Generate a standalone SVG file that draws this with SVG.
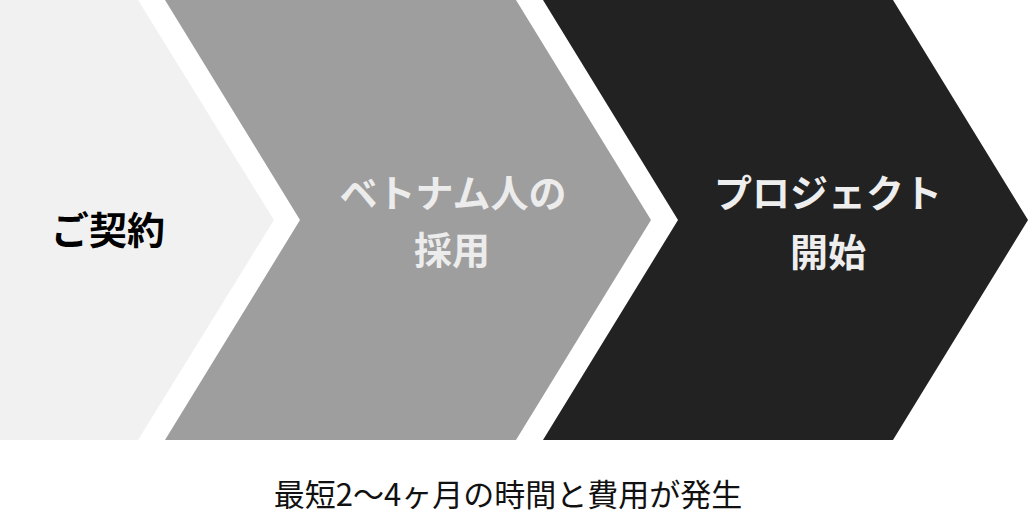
<svg xmlns="http://www.w3.org/2000/svg" width="1028" height="518" viewBox="0 0 1028 518">
<style>
.lbl{font-family:"Noto Sans CJK JP","Noto Sans CJK SC",sans-serif;font-weight:700;font-size:38px;text-anchor:middle}
.cap{font-family:"Noto Sans CJK JP","Noto Sans CJK SC",sans-serif;font-weight:400;font-size:31px;text-anchor:middle;fill:#111}
</style>
<rect width="1028" height="518" fill="#ffffff"/>
<g id="step1">
<polygon points="0,0 138,0 274,220 138,440 0,440" fill="#f1f1f1"/>
<text class="lbl" x="108" y="244" font-size="39" fill="#000000">ご契約</text>
</g>
<g id="step2">
<polygon points="165,0 516,0 651,220 516,440 165,440 300,220" fill="#9e9e9e"/>
<text class="lbl" x="453" y="207" fill="#ececec">ベトナム人の</text>
<text class="lbl" x="452" y="264" fill="#ececec">採用</text>
</g>
<g id="step3">
<polygon points="543,0 893,0 1028,220 893,440 543,440 678,220" fill="#222222"/>
<text class="lbl" x="828" y="207" fill="#eeeeee">プロジェクト</text>
<text class="lbl" x="828" y="266" fill="#eeeeee">開始</text>
</g>
<g id="connectors"></g>
<g id="caption">
<text class="cap" x="508" y="506">最短2〜4ヶ月の時間と費用が発生</text>
</g>
</svg>
